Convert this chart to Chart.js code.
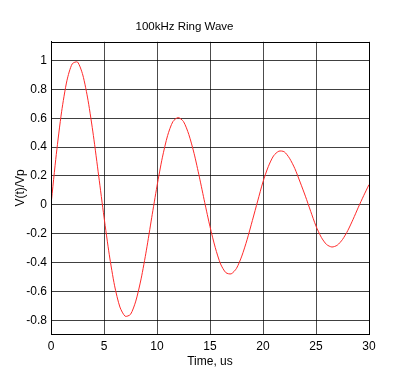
<!DOCTYPE html>
<html>
<head>
<meta charset="utf-8">
<script src="https://cdn.jsdelivr.net/npm/chart.js@4"></script>
<style>
  html, body { margin: 0; padding: 0; background: #fff; }
</style>
</head>
<body>
<canvas id="ring" width="400" height="375"></canvas>
<script>
// time in us, sampled every 0.5 us
const timeUs = [
  0, 0.5, 1, 1.5, 2, 2.5, 3, 3.5, 4, 4.5,
  5, 5.5, 6, 6.5, 7, 7.5, 8, 8.5, 9, 9.5,
  10, 10.5, 11, 11.5, 12, 12.5, 13, 13.5, 14, 14.5,
  15, 15.5, 16, 16.5, 17, 17.5, 18, 18.5, 19, 19.5,
  20, 20.5, 21, 21.5, 22, 22.5, 23, 23.5, 24, 24.5,
  25, 25.5, 26, 26.5, 27, 27.5, 28, 28.5, 29, 29.5, 30
];
// V(t)/Vp
const ringValues = [
  0, 0.35, 0.645, 0.86, 0.977, 0.99, 0.9, 0.722, 0.48, 0.2,
  -0.084, -0.346, -0.561, -0.708, -0.772, -0.759, -0.667, -0.513, -0.314, -0.089,
  0.13, 0.326, 0.48, 0.577, 0.605, 0.577, 0.488, 0.356, 0.192, 0.017,
  -0.151, -0.297, -0.41, -0.47, -0.478, -0.44, -0.355, -0.241, -0.108, 0.027,
  0.16, 0.265, 0.34, 0.372, 0.368, 0.323, 0.252, 0.158, 0.06, -0.045,
  -0.147, -0.225, -0.275, -0.292, -0.28, -0.24, -0.178, -0.1, -0.016, 0.064, 0.14
];
const xTicks = [0, 5, 10, 15, 20, 25, 30];
const yTicks = [-0.8, -0.6, -0.4, -0.2, 0, 0.2, 0.4, 0.6, 0.8, 1];

const points = timeUs.map((t, i) => ({ x: t, y: ringValues[i] }));
const fontFamily = "'Liberation Sans', Arial, sans-serif";

// box around the plot area
const frame = {
  id: 'frame',
  afterDraw(chart) {
    const a = chart.chartArea;
    const ctx = chart.ctx;
    ctx.save();
    ctx.strokeStyle = '#000';
    ctx.lineWidth = 1;
    ctx.strokeRect(Math.round(a.left) + 0.5, Math.round(a.top) + 0.5,
      Math.round(a.right - a.left), Math.round(a.bottom - a.top));
    ctx.restore();
  }
};

new Chart(document.getElementById('ring'), {
  type: 'line',
  data: {
    datasets: [{
      data: points,
      borderColor: '#ff2a2a',
      borderWidth: 1,
      pointRadius: 0,
      tension: 0.25,
      fill: false
    }]
  },
  options: {
    responsive: false,
    animation: false,
    layout: { padding: { left: 0, right: 31, top: 0, bottom: 0 } },
    plugins: {
      legend: { display: false },
      tooltip: { enabled: false },
      title: {
        display: true,
        text: '100kHz Ring Wave',
        color: '#000',
        font: { family: fontFamily, size: 11.5, weight: 'normal' },
        padding: { top: 20, bottom: 8 }
      }
    },
    scales: {
      x: {
        type: 'linear',
        min: 0,
        max: 30,
        afterBuildTicks: s => { s.ticks = xTicks.map(v => ({ value: v })); },
        afterFit: s => { s.height = 41; },
        ticks: {
          color: '#000',
          padding: 5,
          maxRotation: 0,
          autoSkip: false,
          font: { family: fontFamily, size: 12 }
        },
        grid: { color: 'rgba(0,0,0,0.7)', lineWidth: 1, drawTicks: false },
        border: { color: '#000' },
        title: {
          display: true,
          text: 'Time, us',
          color: '#000',
          font: { family: fontFamily, size: 12 },
          padding: { top: 0, bottom: 6 }
        }
      },
      y: {
        type: 'linear',
        min: -0.895,
        max: 1.13,
        afterBuildTicks: s => { s.ticks = yTicks.map(v => ({ value: v })); },
        afterFit: s => { s.width = 51; },
        ticks: {
          color: '#000',
          padding: 4,
          autoSkip: false,
          font: { family: fontFamily, size: 12 },
          callback: v => String(Number(v.toFixed(1)))
        },
        grid: { color: 'rgba(0,0,0,0.75)', lineWidth: 1, drawTicks: false },
        border: { color: '#000' },
        title: {
          display: true,
          text: 'V(t)/Vp',
          color: '#000',
          font: { family: fontFamily, size: 12 },
          padding: { top: 13, bottom: 0 }
        }
      }
    }
  },
  plugins: [frame]
});
</script>
</body>
</html>
